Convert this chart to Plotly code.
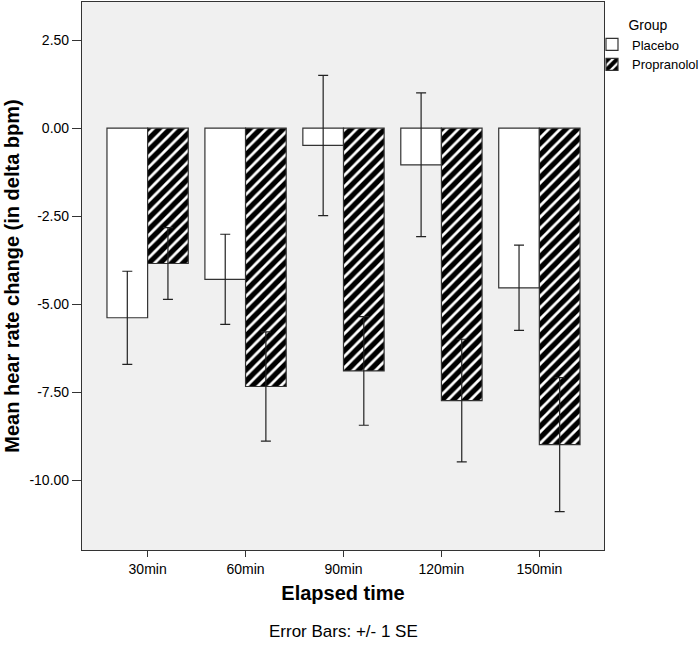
import plotly.graph_objects as go

categories = ["30min", "60min", "90min", "120min", "150min"]
placebo_mean = [-5.38, -4.29, -0.49, -1.04, -4.53]
placebo_se = [1.32, 1.28, 1.99, 2.04, 1.21]
propranolol_mean = [-3.84, -7.33, -6.89, -7.73, -8.98]
propranolol_se = [1.02, 1.55, 1.54, 1.74, 1.90]
y_ticks = [2.5, 0.0, -2.5, -5.0, -7.5, -10.0]
y_tick_labels = ["2.50", "0.00", "-2.50", "-5.00", "-7.50", "-10.00"]

FONT = "Liberation Sans, Arial, sans-serif"

fig = go.Figure()
fig.add_trace(go.Bar(
    name="Placebo", x=categories, y=placebo_mean,
    marker=dict(color="white", line=dict(color="#333333", width=1.2)),
    error_y=dict(type="data", array=placebo_se, visible=True,
                 color="#222222", thickness=1.2, width=5),
))
fig.add_trace(go.Bar(
    name="Propranolol", x=categories, y=propranolol_mean,
    marker=dict(color="white", line=dict(color="#333333", width=1.2),
                pattern=dict(shape="/", fgcolor="#000000", bgcolor="#ffffff",
                             fgopacity=1, fillmode="replace",
                             size=8, solidity=0.65)),
    error_y=dict(type="data", array=propranolol_se, visible=True,
                 color="#222222", thickness=1.2, width=5),
))

fig.update_layout(
    width=699, height=646,
    margin=dict(l=82, r=95, t=2, b=96, autoexpand=False),
    paper_bgcolor="white", plot_bgcolor="#f0f0f0",
    barmode="group", bargap=0.17, bargroupgap=0,
    font=dict(family=FONT, size=14, color="black"),
    showlegend=True,
    legend=dict(
        title=dict(text="Group", side="top center", font=dict(size=14)),
        x=0.977, y=0.983, xanchor="left", yanchor="top",
        bgcolor="rgba(0,0,0,0)", font=dict(size=13),
        itemwidth=30, tracegroupgap=0,
    ),
    annotations=[dict(
        text="Error Bars: +/- 1 SE", xref="paper", yref="paper",
        x=0.5, y=-0.1496, xanchor="center", yanchor="middle",
        showarrow=False, font=dict(size=17, family=FONT),
    )],
)
fig.update_xaxes(
    range=[-0.67, 4.66], showline=True, linecolor="#333333", linewidth=1.2,
    mirror=True, ticks="outside", ticklen=6, tickcolor="#333333",
    tickfont=dict(size=14), automargin=False,
    title=dict(text="<b>Elapsed time</b>", font=dict(size=20), standoff=10),
    showgrid=False,
)
fig.update_yaxes(
    range=[-11.97, 3.58], showline=True, linecolor="#333333", linewidth=1.2,
    mirror=True, ticks="outside", ticklen=9, tickcolor="#333333",
    tickvals=y_ticks, ticktext=y_tick_labels, tickfont=dict(size=14),
    automargin=False,
    title=dict(text="<b>Mean hear rate change (in delta bpm)</b>",
               font=dict(size=20), standoff=4),
    showgrid=False, zeroline=False,
)

fig.write_html("out.html", config={"displayModeBar": False},
               post_script="document.body.style.margin='0';")
